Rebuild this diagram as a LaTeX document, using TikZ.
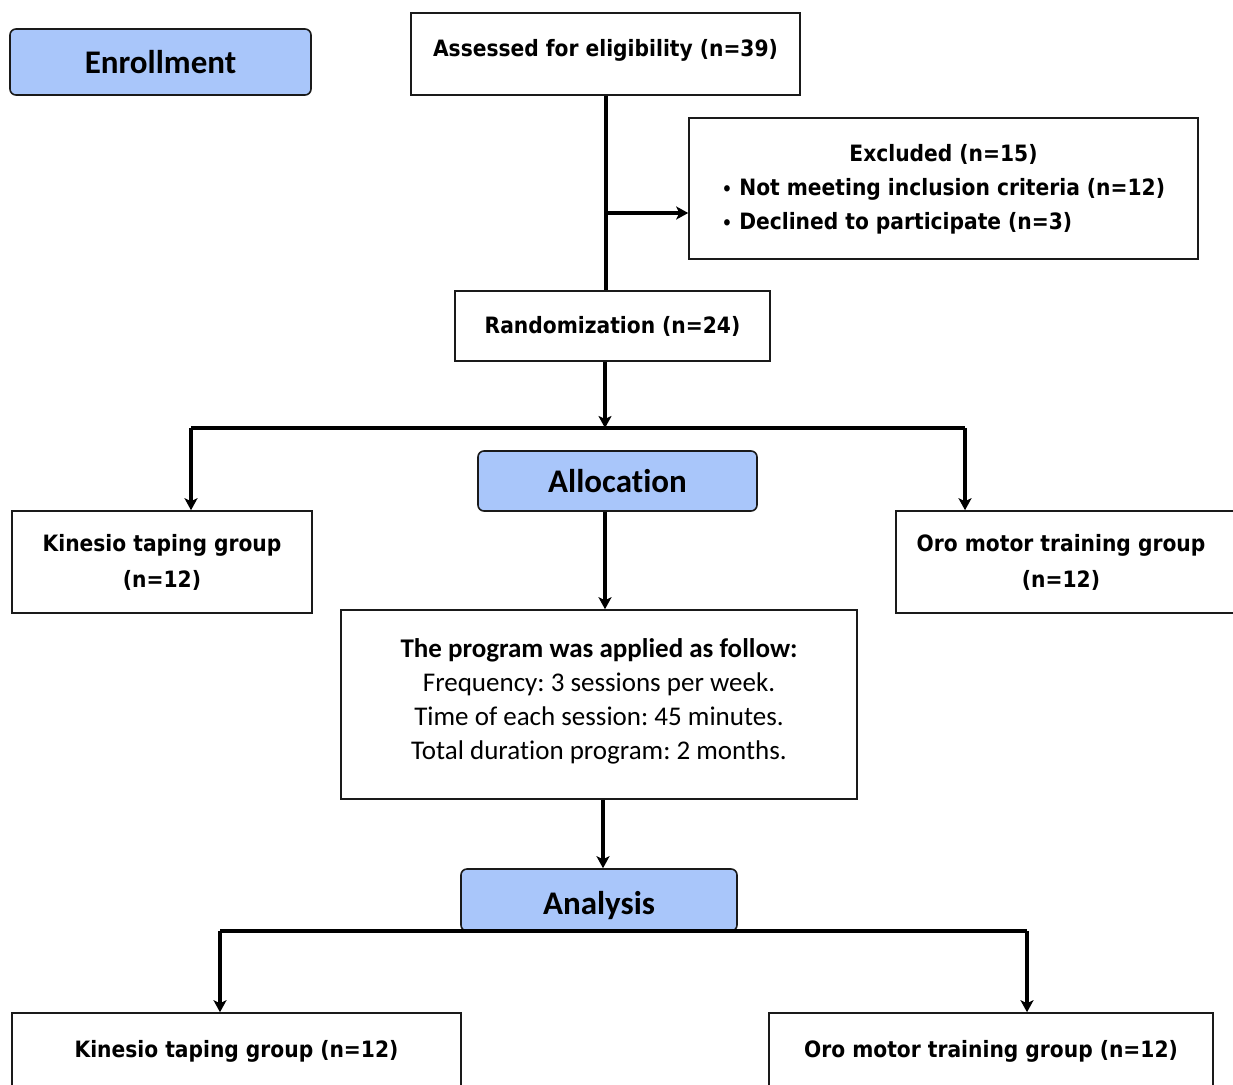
\documentclass[tikz,border=0pt]{standalone}
\usepackage{fontspec}
\setmainfont{Carlito}[Ligatures={NoCommon}]
\newfontfamily\boxfont{DejaVu Sans Condensed}
\usetikzlibrary{arrows.meta}
\definecolor{hdrblue}{HTML}{A9C6FA}
\definecolor{edgecol}{HTML}{1A1A1A}
\begin{document}
\frenchspacing
\begin{tikzpicture}[x=1pt,y=-1pt,
  box/.style={draw=edgecol, line width=1.6pt, fill=white, inner sep=0pt, align=center,
    font=\boxfont\bfseries\fontsize{22.5}{36}\selectfont},
  hdr/.style={draw=edgecol, line width=1.6pt, fill=hdrblue, rounded corners=6pt, inner sep=0pt,
    font=\bfseries\fontsize{33}{36}\selectfont},
  conn/.style={line width=3.2pt, draw=black},
  arr/.style={conn, -{Stealth[length=12pt,width=13pt,inset=3pt]}}
]
\useasboundingbox (0,0) rectangle (1233,1084);
\clip (0,0) rectangle (1233,1084);
\fill[white] (0,0) rectangle (1233,1084);

% nodes
\node[hdr, minimum width=301pt, minimum height=66pt] (enroll) at (160.5,62) {Enrollment};
\node[box, minimum width=389pt, minimum height=82pt, text depth=13pt] (assess) at (605.5,54) {Assessed for eligibility (n=39)};
\node[box, minimum width=509pt, minimum height=141pt] (excl) at (943.5,188.5)
  {\fontsize{22.5}{24}\selectfont\renewcommand\arraystretch{1.42}\begin{tabular}{@{}l@{}}
   \multicolumn{1}{c}{Excluded (n=15)}\\
   {\fontsize{18}{18}\selectfont\textbullet}\hspace{7pt}Not meeting inclusion criteria (n=12)\\
   {\fontsize{18}{18}\selectfont\textbullet}\hspace{7pt}Declined to participate (n=3)
   \end{tabular}};
\node[box, minimum width=315pt, minimum height=70pt] (rand) at (612.5,326) {Randomization (n=24)};
\node[hdr, minimum width=279pt, minimum height=60pt] (alloc) at (617.5,481) {Allocation};
\node[box, minimum width=300pt, minimum height=102pt] (kin1) at (162,562) {Kinesio taping group\\(n=12)};
\node[box, minimum width=344pt, minimum height=102pt] (oro1) at (1068,562) {\hspace*{-14pt}Oro motor training group\\\hspace*{-14pt}(n=12)};
\node[box, minimum width=516pt, minimum height=189pt, text depth=10pt,
  font=\fontsize{27}{34}\selectfont] (prog) at (599,704.5)
  {\textbf{The program was applied as follow:}\\
   Frequency: 3 sessions per week.\\
   Time of each session: 45 minutes.\\
   Total duration program: 2 months.};
\node[hdr, minimum width=276pt, minimum height=62pt, text height=36pt, text depth=7pt] (anal) at (599,900) {Analysis};
\node[box, minimum width=449pt, minimum height=76pt] (kin2) at (236.5,1051) {Kinesio taping group (n=12)};
\node[box, minimum width=444pt, minimum height=76pt] (oro2) at (991,1051) {Oro motor training group (n=12)};

% junction coordinates
\coordinate (j1) at (606,213);
\coordinate (j2) at (605,428);
\coordinate (j2l) at (191,428);
\coordinate (j2r) at (965,428);
\coordinate (j4) at (603,835);
\coordinate (j3l) at (220,931);
\coordinate (j3r) at (1027,931);

% connectors
\draw[conn] (j1 |- assess.south) -- (j1 |- rand.north);
\draw[arr] (j1) -- (j1 -| excl.west);
\draw[arr] (j2 |- rand.south) -- (j2);
\draw[conn] (j2l) -- (j2r);
\draw[arr] (j2l) -- (j2l |- kin1.north);
\draw[arr] (j2r) -- (j2r |- oro1.north);
\draw[arr] (j2 |- alloc.south) -- (j2 |- prog.north);
\draw[arr] (j4 |- prog.south) -- (j4 |- anal.north);
\draw[conn] (j3l) -- (j3r);
\draw[arr] (j3l) -- (j3l |- kin2.north);
\draw[arr] (j3r) -- (j3r |- oro2.north);
\end{tikzpicture}
\end{document}
